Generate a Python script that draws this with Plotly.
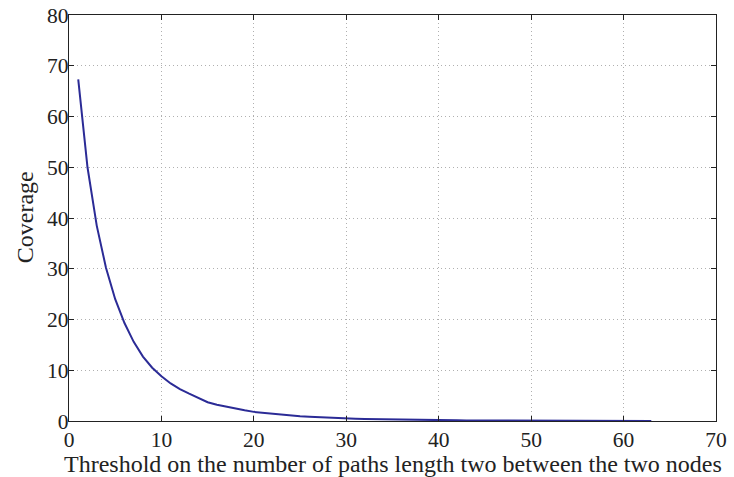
import plotly.graph_objects as go

threshold = list(range(1, 64))
coverage = [67.3, 50.0, 38.5, 30.2, 24.0, 19.3, 15.6, 12.7, 10.5, 8.8,
            7.4, 6.3, 5.4, 4.6, 3.7, 3.2, 2.8, 2.4, 2.1, 1.8,
            1.6, 1.4, 1.2, 1.05, 0.92, 0.82, 0.72, 0.64, 0.56, 0.5,
            0.44, 0.39, 0.35, 0.31, 0.28, 0.25, 0.22, 0.2, 0.18, 0.16,
            0.14, 0.13, 0.12, 0.11, 0.1, 0.09, 0.08, 0.075, 0.07, 0.065,
            0.06, 0.055, 0.05, 0.045, 0.04, 0.037, 0.034, 0.031, 0.028, 0.025,
            0.022, 0.02, 0.018]
x_ticks = [0, 10, 20, 30, 40, 50, 60, 70]
y_ticks = [0, 10, 20, 30, 40, 50, 60, 70, 80]
x_title = "Threshold on the number of paths length two between the two nodes"
y_title = "Coverage"

fig = go.Figure()
fig.add_trace(go.Scatter(x=threshold, y=coverage, mode="lines",
                         line=dict(color="#2b2b96", width=2)))

fam = "Liberation Serif, Times New Roman, serif"
font = dict(family=fam, size=21.5, color="#222")
axis_common = dict(showline=True, linecolor="#222", linewidth=1.2, mirror="ticks",
                   ticks="inside", ticklen=5, tickcolor="#222",
                   showgrid=True, gridcolor="#b0b0b0", griddash="1px,3px", gridwidth=1,
                   zeroline=False, tickfont=font, automargin=False)
fig.update_layout(
    width=734, height=477,
    margin=dict(l=69, r=18, t=15, b=56),
    paper_bgcolor="white", plot_bgcolor="white",
    showlegend=False,
    font=font,
    xaxis=dict(range=[0, 70], tickvals=x_ticks, ticktext=[str(v) for v in x_ticks],
               ticklabelstandoff=-1, **axis_common),
    yaxis=dict(range=[0, 80], tickvals=y_ticks, ticktext=[str(v) for v in y_ticks],
               ticklabelstandoff=-5, **axis_common),
    annotations=[
        dict(text=x_title, xref="paper", yref="paper", x=0.5, y=-0.107,
             xanchor="center", yanchor="middle", showarrow=False,
             font=dict(family=fam, size=24, color="#222")),
        dict(text=y_title, xref="paper", yref="paper", x=-0.068, y=0.502,
             xanchor="center", yanchor="middle", showarrow=False, textangle=-90,
             font=dict(family=fam, size=24, color="#222")),
    ],
)
fig.write_html("out.html")
